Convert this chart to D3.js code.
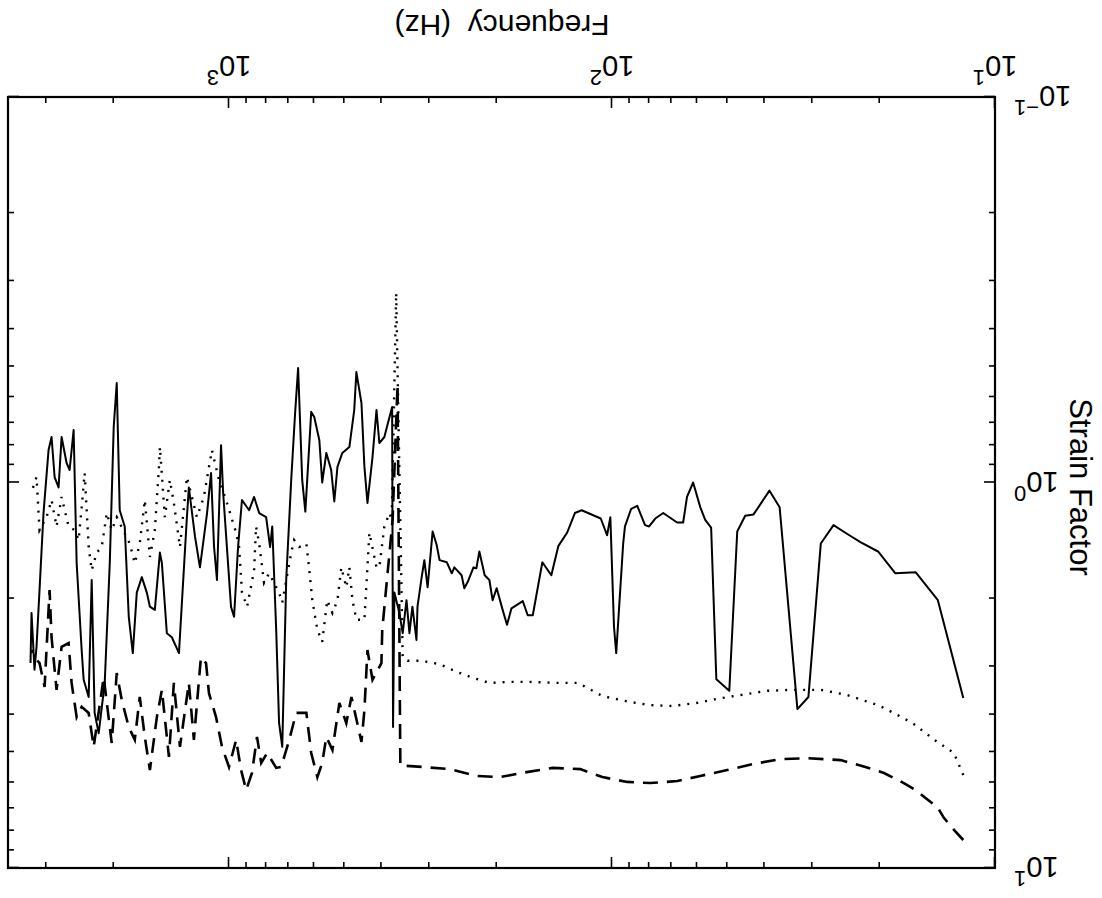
<!DOCTYPE html>
<html>
<head>
<meta charset="utf-8">
<script src="https://cdn.jsdelivr.net/npm/d3@7"></script>
<style>
  body { margin: 0; background: #fff; }
  text { font-family: "Liberation Sans", Arial, sans-serif; fill: #000; }
</style>
</head>
<body>
<div id="chart"></div>
<script>
// decades labelled on each axis
var xTickExps = [1, 2, 3];
var yTickExps = [-1, 0, 1];

// [frequency Hz, strain factor]
var solid = [[12.1,3.62],[14.1,2.02],[16.1,1.71],[18.2,1.72],[20.2,1.51],[22.4,1.43],[24.3,1.36],[26.4,1.29],[28.5,1.44],[30.7,3.60],[32.8,3.87],[36.5,1.16],[38.8,1.05],[42.7,1.21],[44.9,1.22],[47.1,1.34],[49.4,3.47],[53.4,3.24],[55.1,1.31],[57.1,1.25],[58.8,1.16],[61.4,1.00],[63.7,1.09],[65.2,1.27],[67.6,1.27],[73.5,1.20],[77.1,1.24],[80.0,1.30],[82.0,1.29],[85.9,1.15],[89.1,1.17],[92.5,1.30],[93.5,1.44],[97.5,2.77],[98.8,2.37],[101,1.23],[103,1.37],[107,1.24],[120,1.18],[125,1.20],[131,1.35],[138,1.46],[143,1.69],[144,1.74],[152,1.61],[161,2.21],[166,2.21],[171,2.03],[183,2.12],[188,2.34],[193,2.14],[200,1.88],[205,2.02],[209,1.79],[215,1.74],[222,1.51],[226,1.67],[230,1.66],[238,1.81],[243,1.88],[247,1.74],[258,1.66],[262,1.72],[270,1.61],[282,1.59],[287,1.45],[294,1.34],[303,1.87],[309,1.59],[314,1.76],[322,2.10],[324,2.56],[332,2.10],[338,2.46],[344,2.02],[352,2.46],[359,2.18],[370,1.93],[373,4.31],[375,0.637],[381,0.676],[393,0.762],[405,0.790],[412,0.649],[422,0.859],[435,1.13],[443,0.911],[451,0.622],[465,0.517],[471,0.649],[485,0.809],[506,0.838],[521,0.911],[531,1.12],[541,0.928],[557,0.838],[571,1.00],[581,0.776],[599,0.676],[610,0.656],[632,1.19],[644,0.985],[660,0.505],[672,0.660],[688,0.985],[709,1.79],[726,4.85],[740,4.21],[753,2.41],[771,1.30],[781,1.47],[800,1.23],[834,1.20],[860,1.09],[886,1.18],[925,1.11],[947,1.47],[970,2.23],[988,2.10],[1036,1.06],[1049,0.800],[1075,1.79],[1094,1.47],[1114,0.945],[1141,1.20],[1177,1.52],[1191,1.66],[1227,1.38],[1273,1.03],[1288,1.23],[1351,2.77],[1410,2.52],[1453,2.46],[1497,1.62],[1515,1.52],[1562,2.14],[1609,2.10],[1639,1.93],[1689,1.76],[1741,1.93],[1783,2.77],[1827,2.23],[1872,1.30],[1929,1.18],[1964,0.552],[2000,0.718],[2048,1.62],[2111,3.31],[2189,4.47],[2243,3.96],[2283,1.79],[2325,3.60],[2396,3.25],[2425,2.72],[2499,1.62],[2545,0.731],[2607,0.928],[2655,0.890],[2736,0.762],[2786,1.03],[2853,0.968],[2906,0.762],[2959,0.824],[3050,1.20],[3124,1.90],[3181,2.67],[3220,3.06],[3278,2.18],[3298,2.94]];

var dotted = [[12.1,5.74],[12.8,5.03],[14.4,4.65],[16.4,4.21],[18.4,3.96],[20.2,3.78],[24.3,3.56],[28.5,3.45],[33.6,3.45],[39.3,3.47],[46.2,3.56],[53.1,3.64],[59.9,3.73],[69.6,3.80],[79.5,3.78],[89.7,3.71],[106,3.58],[116,3.41],[123,3.31],[139,3.31],[164,3.29],[185,3.29],[209,3.31],[231,3.21],[254,3.10],[282,2.96],[314,2.90],[342,2.90],[352,2.84],[366,0.322],[376,1.25],[381,1.20],[393,1.30],[405,1.66],[412,1.66],[430,1.35],[443,2.27],[465,2.27],[476,2.02],[485,1.66],[494,1.87],[509,1.66],[521,2.02],[537,2.18],[554,2.02],[571,2.59],[588,2.41],[606,2.02],[617,1.69],[628,1.44],[656,1.47],[676,1.41],[688,1.52],[726,2.05],[740,1.93],[786,1.72],[810,1.82],[834,1.44],[850,1.30],[860,1.69],[897,2.10],[925,1.93],[941,1.47],[958,1.35],[1018,1.11],[1062,0.985],[1108,0.824],[1128,0.911],[1163,1.09],[1213,1.23],[1288,0.968],[1343,1.47],[1393,1.13],[1427,0.985],[1471,1.23],[1515,0.809],[1525,0.928],[1562,1.33],[1609,1.56],[1659,1.11],[1710,1.44],[1762,1.62],[1816,1.44],[1964,1.23],[2024,1.33],[2085,1.20],[2149,1.47],[2215,1.52],[2283,1.69],[2325,1.47],[2382,0.945],[2425,1.16],[2470,1.41],[2529,1.33],[2623,1.30],[2736,1.09],[2820,1.30],[2906,1.11],[2994,1.23],[3124,1.33],[3181,0.968],[3278,1.06]];

var dashed = [[12.1,8.46],[12.8,7.96],[13.6,7.41],[14.1,6.98],[15.3,6.54],[16.1,6.28],[17.3,6.02],[19.5,5.67],[21.8,5.47],[25.3,5.25],[30.9,5.19],[36.3,5.22],[42.7,5.37],[50.0,5.57],[58.8,5.77],[67.5,5.95],[79.5,6.02],[91.3,5.98],[106,5.81],[121,5.54],[143,5.50],[167,5.64],[196,5.81],[226,5.77],[265,5.54],[312,5.47],[348,5.43],[357,5.43],[363,0.558],[374,1.25],[398,2.41],[400,2.94],[422,3.25],[435,2.72],[443,3.89],[451,4.71],[479,3.60],[494,4.21],[515,3.73],[537,4.94],[557,4.57],[571,5.34],[588,5.81],[610,5.03],[628,3.96],[668,3.96],[696,4.65],[731,5.47],[753,5.50],[795,5.03],[824,5.34],[845,4.57],[871,5.67],[902,6.28],[930,5.57],[958,4.65],[1000,5.47],[1043,4.85],[1081,4.06],[1128,3.52],[1148,2.94],[1184,2.84],[1235,4.65],[1273,3.31],[1343,4.85],[1393,3.31],[1435,5.15],[1497,3.45],[1543,4.06],[1609,5.57],[1659,4.57],[1710,3.60],[1762,4.65],[1827,4.31],[1905,3.67],[1964,3.12],[2024,4.74],[2124,3.20],[2256,4.85],[2325,3.96],[2425,3.82],[2499,4.06],[2576,3.31],[2623,2.61],[2736,2.67],[2820,3.45],[2906,2.52],[2941,1.90],[3030,3.39],[3124,2.94],[3220,2.84],[3278,2.72]];

var W = 1102, H = 898;
var margin = { top: 30, right: 8, bottom: 97, left: 107 };

var x = d3.scaleLog().domain([10, 3776]).range([margin.left, W - margin.right]);
var y = d3.scaleLog().domain([0.1, 10]).range([H - margin.bottom, margin.top]);

var svg = d3.select("#chart").append("svg")
  .attr("width", W).attr("height", H)
  .style("background", "#fff");

// the whole figure is printed upside down
var g = svg.append("g").attr("transform", "rotate(180," + W / 2 + "," + H / 2 + ")");

// minor / major tick values
var xMinor = [], yMinor = [];
[10, 100, 1000].forEach(function (d) { for (var k = 2; k <= 9; k++) if (d * k < 3776) xMinor.push(d * k); });
[0.1, 1].forEach(function (d) { for (var k = 2; k <= 9; k++) yMinor.push(d * k); });
var xMajor = xTickExps.map(function (e) { return Math.pow(10, e); });
var yMajor = yTickExps.map(function (e) { return Math.pow(10, e); });

function tickAxis(axis, vals, size, tr) {
  var a = g.append("g").attr("transform", tr)
    .call(axis.tickValues(vals).tickSize(size).tickFormat(""));
  a.select(".domain").remove();
  a.selectAll("line").attr("stroke", "#000").attr("stroke-width", 1.6);
}
var bottomY = H - margin.bottom, rightX = W - margin.right;
tickAxis(d3.axisBottom(x), xMinor, -6, "translate(0," + bottomY + ")");
tickAxis(d3.axisBottom(x), xMajor, -11, "translate(0," + bottomY + ")");
tickAxis(d3.axisTop(x), xMinor, -6, "translate(0," + margin.top + ")");
tickAxis(d3.axisTop(x), xMajor, -11, "translate(0," + margin.top + ")");
tickAxis(d3.axisLeft(y), yMinor, -6, "translate(" + margin.left + ",0)");
tickAxis(d3.axisLeft(y), yMajor, -11, "translate(" + margin.left + ",0)");
tickAxis(d3.axisRight(y), yMinor, -6, "translate(" + rightX + ",0)");
tickAxis(d3.axisRight(y), yMajor, -11, "translate(" + rightX + ",0)");

// data lines
var line = d3.line().x(function (d) { return x(d[0]); }).y(function (d) { return y(d[1]); });

g.append("path").datum(dashed).attr("d", line)
  .attr("fill", "none").attr("stroke", "#000").attr("stroke-width", 2.6)
  .attr("stroke-dasharray", "15,9");
g.append("path").datum(dotted).attr("d", line)
  .attr("fill", "none").attr("stroke", "#000").attr("stroke-width", 2.4)
  .attr("stroke-dasharray", "2,7");
g.append("path").datum(solid).attr("d", line)
  .attr("fill", "none").attr("stroke", "#000").attr("stroke-width", 2)
  .attr("stroke-linejoin", "round");

// frame
g.append("rect")
  .attr("x", margin.left).attr("y", margin.top)
  .attr("width", rightX - margin.left).attr("height", bottomY - margin.top)
  .attr("fill", "none").attr("stroke", "#000").attr("stroke-width", 2.2);

// tick labels 10^n
g.selectAll(".xl").data(xTickExps).enter().append("text")
  .attr("class", "xl")
  .attr("x", function (e) { return x(Math.pow(10, e)); })
  .attr("y", bottomY + 41)
  .attr("text-anchor", "middle").style("font-size", "29px")
  .each(function (e) {
    var t = d3.select(this);
    t.append("tspan").text("10");
    t.append("tspan").attr("dy", -14).style("font-size", "22px").text(e);
  });

g.selectAll(".yl").data(yTickExps).enter().append("text")
  .attr("class", "yl")
  .attr("x", margin.left - 19)
  .attr("y", function (e) { return y(Math.pow(10, e)) + 11; })
  .attr("text-anchor", "end").style("font-size", "29px")
  .each(function (e) {
    var t = d3.select(this);
    t.append("tspan").text("10");
    t.append("tspan").attr("dy", -14).style("font-size", "22px").text(e === -1 ? "\u22121" : e);
  });

// axis titles
g.append("text")
  .attr("x", (margin.left + rightX) / 2 - 0.5).attr("y", 883)
  .attr("text-anchor", "middle").style("font-size", "30px")
  .style("white-space", "pre")
  .text("Frequency  (Hz)");

g.append("text")
  .attr("transform", "translate(32," + 411 + ") rotate(-90)")
  .attr("text-anchor", "middle").style("font-size", "31px")
  .text("Strain Factor");
</script>
</body>
</html>
